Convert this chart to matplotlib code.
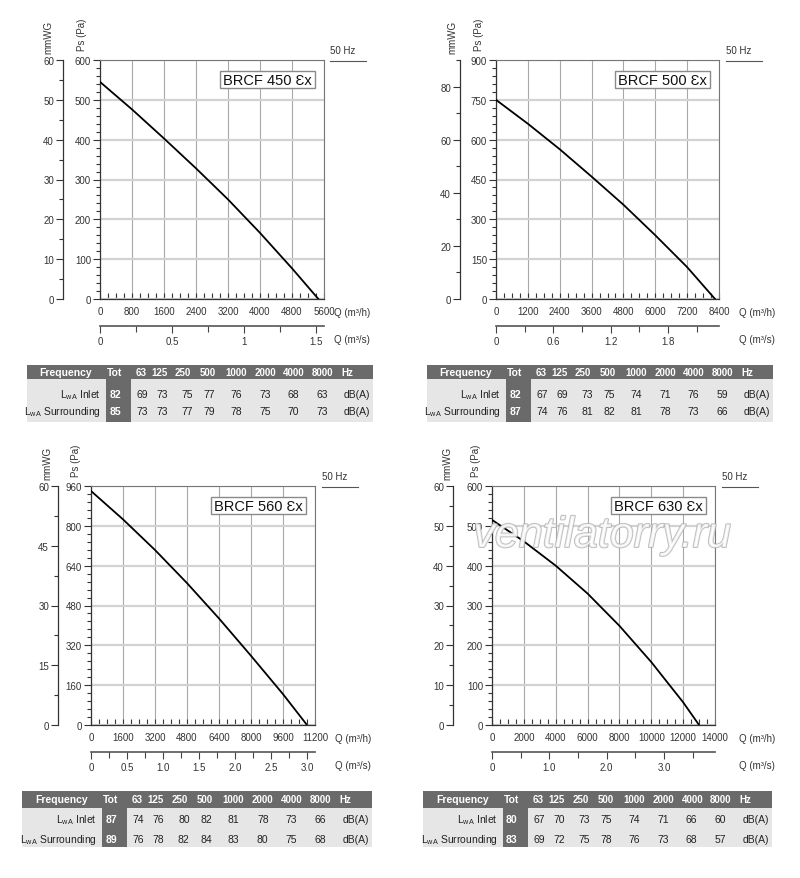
import matplotlib.pyplot as plt
import matplotlib.patheffects as pe
from matplotlib.patches import Rectangle
from matplotlib.ticker import MultipleLocator, FixedLocator

plt.rcParams['font.family'] = ['Liberation Sans', 'DejaVu Sans']
plt.rcParams['mathtext.fontset'] = 'custom'
plt.rcParams['mathtext.rm'] = 'Liberation Sans'
plt.rcParams['mathtext.it'] = 'Liberation Sans:italic'

W, H = 800, 879

# fan curves, Q in m3/h, Ps in Pa
models = ['BRCF 450 Ɛx', 'BRCF 500 Ɛx', 'BRCF 560 Ɛx', 'BRCF 630 Ɛx']
q450 = [0, 800, 1600, 2400, 3200, 4000, 4800, 5460]
ps450 = [545, 476, 403, 328, 250, 166, 77, 0]
q500 = [0, 1200, 2400, 3600, 4800, 6000, 7200, 8250]
ps500 = [750, 660, 564, 461, 355, 240, 120, 0]
q560 = [0, 1600, 3200, 4800, 6400, 8000, 9600, 10800]
ps560 = [940, 826, 703, 570, 428, 278, 124, 0]
q630 = [0, 2000, 4000, 6000, 8000, 10000, 12000, 13000]
ps630 = [515, 461, 400, 330, 249, 158, 57, 0]

# second flow scale (m3/s) tick labels
m3s_ticks450 = [0, 0.5, 1, 1.5]
m3s_labels450 = ['0', '0.5', '1', '1.5']
m3s_ticks500 = [0, 0.6, 1.2, 1.8]
m3s_labels500 = ['0', '0.6', '1.2', '1.8']
m3s_ticks560 = [0, 0.5, 1.0, 1.5, 2.0, 2.5, 3.0]
m3s_labels560 = ['0', '0.5', '1.0', '1.5', '2.0', '2.5', '3.0']
m3s_ticks630 = [0, 1.0, 2.0, 3.0]
m3s_labels630 = ['0', '1.0', '2.0', '3.0']

# sound table
freqs = ['63', '125', '250', '500', '1000', '2000', '4000', '8000']
tot_inlet = [82, 82, 87, 80]
tot_surr = [85, 87, 89, 83]
inlet450 = [69, 73, 75, 77, 76, 73, 68, 63]
surr450 = [73, 73, 77, 79, 78, 75, 70, 73]
inlet500 = [67, 69, 73, 75, 74, 71, 76, 59]
surr500 = [74, 76, 81, 82, 81, 78, 73, 66]
inlet560 = [74, 76, 80, 82, 81, 78, 73, 66]
surr560 = [76, 78, 82, 84, 83, 80, 75, 68]
inlet630 = [67, 70, 73, 75, 74, 71, 66, 60]
surr630 = [69, 72, 75, 78, 76, 73, 68, 57]

# layout (pixels)
panels = [
    dict(frame=(100, 61, 324, 300), qmax=5600, qstep=800, qminor=200,
         psmax=600, psstep=100, psminor=20, mmx=63, mmmax=60, mmstep=10, mmminor=5,
         m3sy=327, m3sminor=0.25, mmlab=48, pslab=82, qlab=334, hz=330,
         table=(27, 366, 346, 14, 29, 46, 57)),
    dict(frame=(496, 61, 719, 300), qmax=8400, qstep=1200, qminor=300,
         psmax=900, psstep=150, psminor=30, mmx=460, mmmax=90, mmstep=20, mmminor=10,
         m3sy=327, m3sminor=0.3, mmlab=452, pslab=479, qlab=739, hz=726,
         table=(427, 366, 346, 14, 29, 46, 57)),
    dict(frame=(91, 487, 315, 726), qmax=11200, qstep=1600, qminor=400,
         psmax=960, psstep=160, psminor=32, mmx=58, mmmax=60, mmstep=15, mmminor=7.5,
         m3sy=753, m3sminor=0.25, mmlab=47, pslab=76, qlab=335, hz=322,
         table=(22, 792, 350, 17, 28, 48, 56)),
    dict(frame=(492, 487, 715, 726), qmax=14000, qstep=2000, qminor=500,
         psmax=600, psstep=100, psminor=20, mmx=453, mmmax=60, mmstep=10, mmminor=5,
         m3sy=753, m3sminor=0.5, mmlab=447, pslab=476, qlab=739, hz=722,
         table=(423, 792, 349, 17, 28, 48, 56)),
]
curves = [(q450, ps450), (q500, ps500), (q560, ps560), (q630, ps630)]
m3s = [(m3s_ticks450, m3s_labels450), (m3s_ticks500, m3s_labels500),
       (m3s_ticks560, m3s_labels560), (m3s_ticks630, m3s_labels630)]
sound = [(inlet450, surr450), (inlet500, surr500), (inlet560, surr560), (inlet630, surr630)]

TXT = '#333333'
DARK = '#6a6a6a'


def px_box(x0, y0, x1, y1):
    return [x0 / W, 1 - y1 / H, (x1 - x0) / W, (y1 - y0) / H]


fig = plt.figure(figsize=(W / 100, H / 100), dpi=100)

for p, (q, ps), (mt, ml) in zip(panels, curves, m3s):
    x0, y0, x1, y1 = p['frame']
    ax = fig.add_axes(px_box(x0, y0, x1, y1))
    ax.plot(q, ps, color='black', lw=1.3, zorder=3)
    ax.set_xlim(0, p['qmax'])
    ax.set_ylim(0, p['psmax'])
    ax.xaxis.set_major_locator(MultipleLocator(p['qstep']))
    ax.xaxis.set_minor_locator(MultipleLocator(p['qminor']))
    ax.yaxis.set_major_locator(MultipleLocator(p['psstep']))
    ax.yaxis.set_minor_locator(MultipleLocator(p['psminor']))
    ax.grid(axis='x', which='major', color='#a8a8a8', lw=0.8)
    ax.grid(axis='y', which='major', color='#d2d2d2', lw=1.6)
    ax.tick_params(axis='x', which='both', direction='in', length=4, width=0.8,
                   color='#333', labelsize=7, labelcolor=TXT, pad=5)
    ax.tick_params(axis='y', which='major', direction='out', length=5, width=0.8,
                   color='#333', labelsize=7, labelcolor=TXT, pad=1.5)
    ax.tick_params(axis='y', which='minor', direction='out', length=3, width=0.8, color='#333')
    for s in ['top', 'right']:
        ax.spines[s].set_color('#777')
        ax.spines[s].set_linewidth(0.8)
    for s in ['left', 'bottom']:
        ax.spines[s].set_color('#333')
        ax.spines[s].set_linewidth(0.9)

    # mmWG scale
    axm = fig.add_axes(px_box(p['mmx'], y0, p['mmx'] + 1, y1))
    axm.patch.set_visible(False)
    for s in ['top', 'right', 'bottom']:
        axm.spines[s].set_visible(False)
    axm.spines['left'].set_color('#333')
    axm.spines['left'].set_linewidth(0.9)
    axm.set_xticks([])
    axm.set_ylim(0, p['mmmax'])
    axm.yaxis.set_major_locator(MultipleLocator(p['mmstep']))
    axm.yaxis.set_minor_locator(MultipleLocator(p['mmminor']))
    axm.tick_params(axis='y', which='major', length=5, width=0.8, color='#333',
                    labelsize=7, labelcolor=TXT, pad=1.5)
    axm.tick_params(axis='y', which='minor', length=3, width=0.8, color='#333')

    # m3/s scale
    ys = p['m3sy']
    axs = fig.add_axes(px_box(x0, ys - 1, x1, ys))
    axs.patch.set_visible(False)
    for s in ['top', 'right', 'left']:
        axs.spines[s].set_visible(False)
    axs.spines['bottom'].set_color('#555')
    axs.spines['bottom'].set_linewidth(1.2)
    axs.set_yticks([])
    axs.set_xlim(0, p['qmax'] / 3600)
    axs.xaxis.set_major_locator(FixedLocator(mt))
    axs.set_xticklabels(ml)
    axs.xaxis.set_minor_locator(MultipleLocator(p['m3sminor']))
    axs.tick_params(axis='x', which='major', direction='out', length=5, width=0.8,
                    color='#444', labelsize=7, labelcolor=TXT, pad=2)
    axs.tick_params(axis='x', which='minor', direction='out', length=4, width=0.8, color='#444')

# overlay for free text and tables
ov = fig.add_axes([0, 0, 1, 1])
ov.set_xlim(0, W)
ov.set_ylim(H, 0)
ov.axis('off')

hdr_off = [114, 132, 156, 181, 209, 238, 267, 295]
val_off = [115, 135, 160, 182, 209, 238, 266, 295]

for i, p in enumerate(panels):
    x0, y0, x1, y1 = p['frame']
    ov.add_patch(Rectangle((x1 - 104, y0 + 11), 95, 17, fc='white', ec='#8a8a8a', lw=1, zorder=4))
    ov.text(x1 - 56.5, y0 + 20, models[i], fontsize=10.5, ha='center', va='center',
            color='#111', zorder=5)
    ov.text(p['mmlab'], y0 - 24, 'mmWG', rotation=90, fontsize=7, ha='center', va='center', color=TXT)
    ov.text(p['pslab'], y0 - 26, 'Ps (Pa)', rotation=90, fontsize=7, ha='center', va='center', color=TXT)
    ov.text(p['hz'], y0 - 5, '50 Hz', fontsize=7, ha='left', va='bottom', color=TXT)
    ov.plot([p['hz'], p['hz'] + 36], [y0 + 1, y0 + 1], color='#555', lw=0.8)
    ov.text(p['qlab'], y1 + 13, 'Q (m³/h)', fontsize=7, ha='left', va='center', color=TXT)
    ov.text(p['qlab'], p['m3sy'] + 13, 'Q (m³/s)', fontsize=7, ha='left', va='center', color=TXT)

    # sound table
    L, T, TW, hh, r1, r2, th = p['table']
    k = TW / 346
    ov.add_patch(Rectangle((L, T), TW, hh, fc=DARK, ec='none'))
    ov.add_patch(Rectangle((L, T + hh), TW, th - hh, fc='#e6e6e6', ec='none'))
    ov.add_patch(Rectangle((L + 79 * k, T + hh), 25 * k, th - hh, fc=DARK, ec='none'))
    hy = T + hh / 2
    ov.text(L + 39 * k, hy, 'Frequency', fontsize=7.5, weight='bold', color='white', ha='center', va='center')
    ov.text(L + 88 * k, hy, 'Tot', fontsize=7.5, weight='bold', color='white', ha='center', va='center')
    for f, o in zip(freqs, hdr_off):
        ov.text(L + o * k, hy, f, fontsize=7, weight='bold', color='white', ha='center', va='center')
    ov.text(L + 314 * k, hy, 'Hz', fontsize=7, weight='bold', color='white', ha='left', va='center')
    inl, sur = sound[i]
    for ry, lab, tot, vals in [(T + r1, r'L$_{\mathrm{wA}}$ Inlet', tot_inlet[i], inl),
                               (T + r2, r'L$_{\mathrm{wA}}$ Surrounding', tot_surr[i], sur)]:
        ov.text(L + 74 * k, ry, lab, fontsize=7.5, color='#222', ha='right', va='center')
        ov.text(L + 88 * k, ry, str(tot), fontsize=7.5, weight='bold', color='white', ha='center', va='center')
        for v, o in zip(vals, val_off):
            ov.text(L + o * k, ry, str(v), fontsize=7.5, color='#222', ha='center', va='center')
        ov.text(L + 330 * k, ry, 'dB(A)', fontsize=7.5, color='#222', ha='center', va='center')

# watermark
ov.text(602, 548, 'ventilatorry.ru', fontsize=31, style='italic', ha='center', va='baseline',
        color='white', alpha=0.75,
        path_effects=[pe.withStroke(linewidth=1.4, foreground='#aaaaaa')])

fig.savefig('out.png', dpi=100)
